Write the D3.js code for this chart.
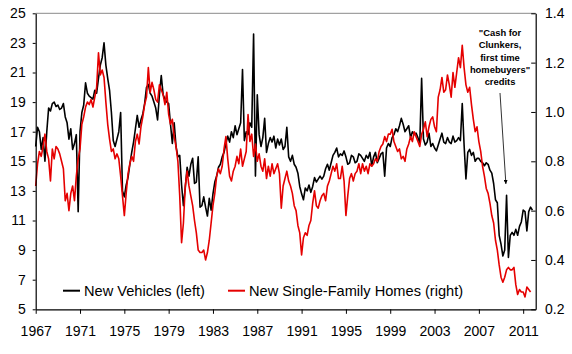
<!DOCTYPE html>
<html>
<head>
<meta charset="utf-8">
<script src="https://cdn.jsdelivr.net/npm/d3@7"></script>
<style>
  html, body { margin: 0; padding: 0; background: #fff; }
  svg { display: block; font-family: Arial, "Liberation Sans", sans-serif; }
</style>
</head>
<body>
<svg id="chart" width="572" height="354"></svg>
<script>
// new vehicle sales (left axis, millions), one row per year, every other month (Jan, Mar, May, Jul, Sep, Nov)
const vehicles = [
  16.0, 17.3, 17.0, 15.8, 16.6, 15.0,  // 1967
  17.0, 18.6, 18.4, 18.9, 19.0, 18.7,  // 1968
  18.8, 18.5, 18.6, 18.9, 18.0, 17.6,  // 1969
  16.5, 17.2, 15.8, 16.2, 16.8, 11.6,  // 1970
  17.0, 18.3, 18.8, 20.3, 19.6, 19.4,  // 1971
  19.3, 19.2, 19.8, 19.6, 20.6, 21.5,  // 1972
  22.0, 23.0, 21.5, 20.6, 19.8, 18.3,  // 1973
  16.4, 16.0, 16.5, 17.0, 18.3, 13.0,  // 1974
  12.6, 13.4, 13.9, 14.8, 15.6, 16.3,  // 1975
  17.2, 18.1, 17.3, 17.8, 18.2, 18.9,  // 1976
  20.0, 20.2, 19.6, 19.4, 19.0, 18.6,  // 1977
  17.8, 19.5, 20.8, 19.5, 19.2, 19.0,  // 1978
  18.9, 17.5, 16.2, 17.6, 16.0, 15.3,  // 1979
  15.4, 13.4, 12.0, 13.2, 14.6, 14.0,  // 1980
  14.8, 15.2, 13.5, 13.6, 15.3, 11.9,  // 1981
  12.0, 12.6, 11.9, 11.3, 12.5, 11.7,  // 1982
  12.8, 13.6, 14.0, 14.6, 14.8, 15.3,  // 1983
  15.6, 16.2, 16.7, 16.3, 17.0, 16.6,  // 1984
  17.4, 16.8, 17.2, 17.6, 21.2, 16.4,  // 1985
  17.0, 16.8, 17.6, 17.3, 23.6, 14.0,  // 1986
  19.5, 16.8, 16.0, 16.6, 17.9, 15.6,  // 1987
  16.2, 16.6, 16.3, 16.7, 15.9, 16.5,  // 1988
  16.1, 16.5, 15.8, 16.0, 17.3, 15.3,  // 1989
  15.0, 15.4, 14.8, 14.6, 14.2, 13.3,  // 1990
  12.8, 12.4, 13.2, 13.0, 13.4, 12.9,  // 1991
  13.3, 13.9, 13.6, 13.8, 14.0, 13.8,  // 1992
  14.0, 14.5, 14.8, 14.4, 14.9, 15.4,  // 1993
  15.6, 15.9, 15.3, 15.5, 15.4, 15.7,  // 1994
  15.3, 14.8, 14.9, 15.4, 15.3, 14.9,  // 1995
  15.0, 15.5, 15.4, 15.2, 15.0, 15.4,  // 1996
  15.2, 15.6, 14.7, 15.3, 15.6, 14.9,  // 1997
  15.2, 15.5, 15.6, 14.0, 15.9, 16.2,  // 1998
  16.0, 16.6, 16.8, 17.2, 17.0, 17.4,  // 1999
  17.9, 17.5, 17.0, 17.2, 17.4, 16.6,  // 2000
  17.0, 16.8, 16.9, 16.6, 16.2, 20.6,  // 2001
  16.5, 16.1, 16.3, 16.9, 16.0, 16.2,  // 2002
  15.9, 15.7, 16.1, 16.5, 16.9, 16.3,  // 2003
  16.2, 16.6, 16.3, 16.2, 16.7, 16.3,  // 2004
  16.4, 16.6, 16.4, 18.9, 16.1, 13.8,  // 2005
  15.6, 15.8, 15.4, 15.6, 15.0, 15.2,  // 2006
  15.2, 15.0, 14.9, 14.7, 14.9, 14.8,  // 2007
  14.4, 14.2, 13.5, 12.4, 12.2, 10.0,  // 2008
  9.4, 8.6, 9.0, 12.7, 8.5, 10.0,      // 2009
  10.2, 10.0, 10.4, 10.0, 10.6, 10.9,  // 2010
  11.7, 11.6, 10.3, 11.6, 11.9, 11.7   // 2011
];

// new single-family home sales (right axis, millions), same spacing
const homes = [
  0.70, 0.79, 0.84, 0.82, 0.86, 0.91,  // 1967
  0.84, 0.81, 0.72, 0.85, 0.81, 0.86,  // 1968
  0.85, 0.83, 0.80, 0.77, 0.64, 0.67,  // 1969
  0.60, 0.67, 0.70, 0.64, 0.74, 0.81,  // 1970
  0.85, 0.95, 0.98, 1.02, 1.04, 1.03,  // 1971
  1.05, 1.02, 1.06, 1.10, 1.24, 1.15,  // 1972
  1.17, 1.14, 1.04, 0.95, 0.89, 0.84,  // 1973
  0.85, 0.81, 0.83, 0.81, 0.74, 0.66,  // 1974
  0.58, 0.67, 0.75, 0.79, 0.82, 0.80,  // 1975
  0.88, 0.91, 0.87, 0.94, 0.98, 1.03,  // 1976
  1.06, 1.18, 1.08, 1.12, 1.09, 1.05,  // 1977
  1.04, 1.11, 1.09, 1.07, 1.03, 1.08,  // 1978
  0.99, 0.95, 0.97, 0.90, 0.86, 0.80,  // 1979
  0.66, 0.47, 0.55, 0.70, 0.76, 0.70,  // 1980
  0.66, 0.62, 0.56, 0.51, 0.44, 0.43,  // 1981
  0.43, 0.44, 0.40, 0.43, 0.48, 0.55,  // 1982
  0.62, 0.67, 0.74, 0.77, 0.75, 0.78,  // 1983
  0.85, 0.90, 0.81, 0.74, 0.72, 0.76,  // 1984
  0.78, 0.82, 0.79, 0.85, 0.78, 0.81,  // 1985
  0.84, 0.99, 0.88, 0.91, 0.82, 0.87,  // 1986
  0.80, 0.83, 0.78, 0.76, 0.81, 0.73,  // 1987
  0.78, 0.74, 0.79, 0.75, 0.77, 0.79,  // 1988
  0.75, 0.61, 0.70, 0.73, 0.76, 0.72,  // 1989
  0.70, 0.67, 0.62, 0.60, 0.54, 0.51,  // 1990
  0.42, 0.49, 0.51, 0.50, 0.54, 0.56,  // 1991
  0.63, 0.68, 0.62, 0.61, 0.64, 0.66,  // 1992
  0.67, 0.64, 0.70, 0.72, 0.75, 0.78,  // 1993
  0.76, 0.79, 0.73, 0.73, 0.78, 0.72,  // 1994
  0.58, 0.66, 0.73, 0.75, 0.72, 0.75,  // 1995
  0.76, 0.79, 0.75, 0.79, 0.76, 0.78,  // 1996
  0.75, 0.79, 0.78, 0.79, 0.81, 0.80,  // 1997
  0.84, 0.86, 0.87, 0.90, 0.88, 0.91,  // 1998
  0.91, 0.93, 0.88, 0.86, 0.84, 0.85,  // 1999
  0.81, 0.82, 0.80, 0.85, 0.87, 0.90,  // 2000
  0.88, 0.92, 0.90, 0.88, 0.86, 0.91,  // 2001
  0.93, 0.96, 0.90, 0.94, 0.97, 0.98,  // 2002
  0.94, 0.92, 1.06, 1.09, 1.14, 1.08,  // 2003
  1.09, 1.15, 1.11, 1.06, 1.16, 1.10,  // 2004
  1.16, 1.22, 1.18, 1.27, 1.18, 1.11,  // 2005
  1.08, 1.10, 1.03, 0.97, 0.92, 0.94,  // 2006
  0.88, 0.84, 0.78, 0.74, 0.69, 0.67,  // 2007
  0.63, 0.58, 0.55, 0.48, 0.44, 0.38,  // 2008
  0.33, 0.31, 0.33, 0.36, 0.37, 0.36,  // 2009
  0.36, 0.37, 0.30, 0.26, 0.28, 0.27,  // 2010
  0.27, 0.25, 0.29, 0.28, 0.27         // 2011 (to Sep)
];

const startYear = 1967;
const perYear = 6;
const xTickYears = [1967, 1971, 1975, 1979, 1983, 1987, 1991, 1995, 1999, 2003, 2007, 2011];
const leftTicks = [5, 7, 9, 11, 13, 15, 17, 19, 21, 23, 25];
const rightTicks = [0.2, 0.4, 0.6, 0.8, 1.0, 1.2, 1.4];
const legendLabels = ["New Vehicles (left)", "New Single-Family Homes (right)"];
const noteLines = ["\"Cash for", "Clunkers,", "first time", "homebuyers\"", "credits"];
const noteTarget = { year: 2009.62, value: 12.9 };

const plot = { left: 35.7, right: 535.7, top: 13.3, bottom: 309.3 };
const red = "#e50000";

const svg = d3.select("#chart");

const x = d3.scaleLinear().domain([1967, 2012.13]).range([plot.left, plot.right]);
const yL = d3.scaleLinear().domain([5, 25]).range([plot.bottom, plot.top]);
const yR = d3.scaleLinear().domain([0.2, 1.4]).range([plot.bottom, plot.top]);

const toPoints = arr => arr.map((v, i) => ({ t: startYear + i / perYear, v }));

// top frame line
svg.append("line")
    .attr("x1", plot.left).attr("x2", plot.right)
    .attr("y1", plot.top).attr("y2", plot.top)
    .attr("stroke", "#8a8a8a").attr("stroke-width", 1);

// lines
svg.append("path")
    .datum(toPoints(vehicles))
    .attr("fill", "none")
    .attr("stroke", "#000")
    .attr("stroke-width", 1.6)
    .attr("stroke-linejoin", "round")
    .attr("d", d3.line().x(d => x(d.t)).y(d => yL(d.v)));

svg.append("path")
    .datum(toPoints(homes))
    .attr("fill", "none")
    .attr("stroke", red)
    .attr("stroke-width", 1.6)
    .attr("stroke-linejoin", "round")
    .attr("d", d3.line().x(d => x(d.t)).y(d => yR(d.v)));

// axes
const styleAxis = g => {
    g.select(".domain").attr("stroke", "#000").attr("stroke-width", 1.2);
    g.selectAll(".tick line").attr("stroke", "#000").attr("stroke-width", 1);
    g.selectAll("text").attr("fill", "#000").style("font-size", "14px");
};

svg.append("g")
    .attr("transform", `translate(${plot.left},0)`)
    .call(d3.axisLeft(yL).tickValues(leftTicks).tickSizeInner(3).tickSizeOuter(0).tickPadding(7).tickFormat(d3.format("d")))
    .call(styleAxis)
    .attr("font-family", null);

svg.append("g")
    .attr("transform", `translate(${plot.right},0)`)
    .call(d3.axisRight(yR).tickValues(rightTicks).tickSizeInner(-4.5).tickSizeOuter(0).tickPadding(9.3).tickFormat(d3.format(".1f")))
    .call(styleAxis)
    .attr("font-family", null);

svg.append("g")
    .attr("transform", `translate(0,${plot.bottom})`)
    .call(d3.axisBottom(x).tickValues(xTickYears).tickSizeInner(4.5).tickSizeOuter(0).tickPadding(12).tickFormat(d3.format("d")))
    .call(styleAxis)
    .attr("font-family", null);

// legend
const legend = svg.append("g").style("font-size", "14.6px");
const legendItems = [
    { label: legendLabels[0], color: "#000", x: 63 },
    { label: legendLabels[1], color: red, x: 228 }
];
legendItems.forEach(item => {
    legend.append("line")
        .attr("x1", item.x).attr("x2", item.x + 17)
        .attr("y1", 290.7).attr("y2", 290.7)
        .attr("stroke", item.color).attr("stroke-width", 2);
    legend.append("text")
        .attr("x", item.x + 21).attr("y", 296)
        .attr("fill", "#000")
        .text(item.label);
});

// annotation
const note = svg.append("text")
    .attr("text-anchor", "middle")
    .style("font-size", "9.4px")
    .style("font-weight", "bold");
noteLines.forEach((line, i) => {
    note.append("tspan").attr("x", 500).attr("y", 36 + i * 12.3).text(line);
});

svg.append("defs").append("marker")
    .attr("id", "arrow")
    .attr("viewBox", "0 0 10 10")
    .attr("refX", 10).attr("refY", 5)
    .attr("markerWidth", 5).attr("markerHeight", 5)
    .attr("orient", "auto")
    .append("path").attr("d", "M0,0L10,5L0,10z").attr("fill", "#000");

svg.append("line")
    .attr("x1", 500).attr("y1", 93)
    .attr("x2", x(noteTarget.year) - 2).attr("y2", 184)
    .attr("stroke", "#000").attr("stroke-width", 0.8)
    .attr("marker-end", "url(#arrow)");
</script>
</body>
</html>
